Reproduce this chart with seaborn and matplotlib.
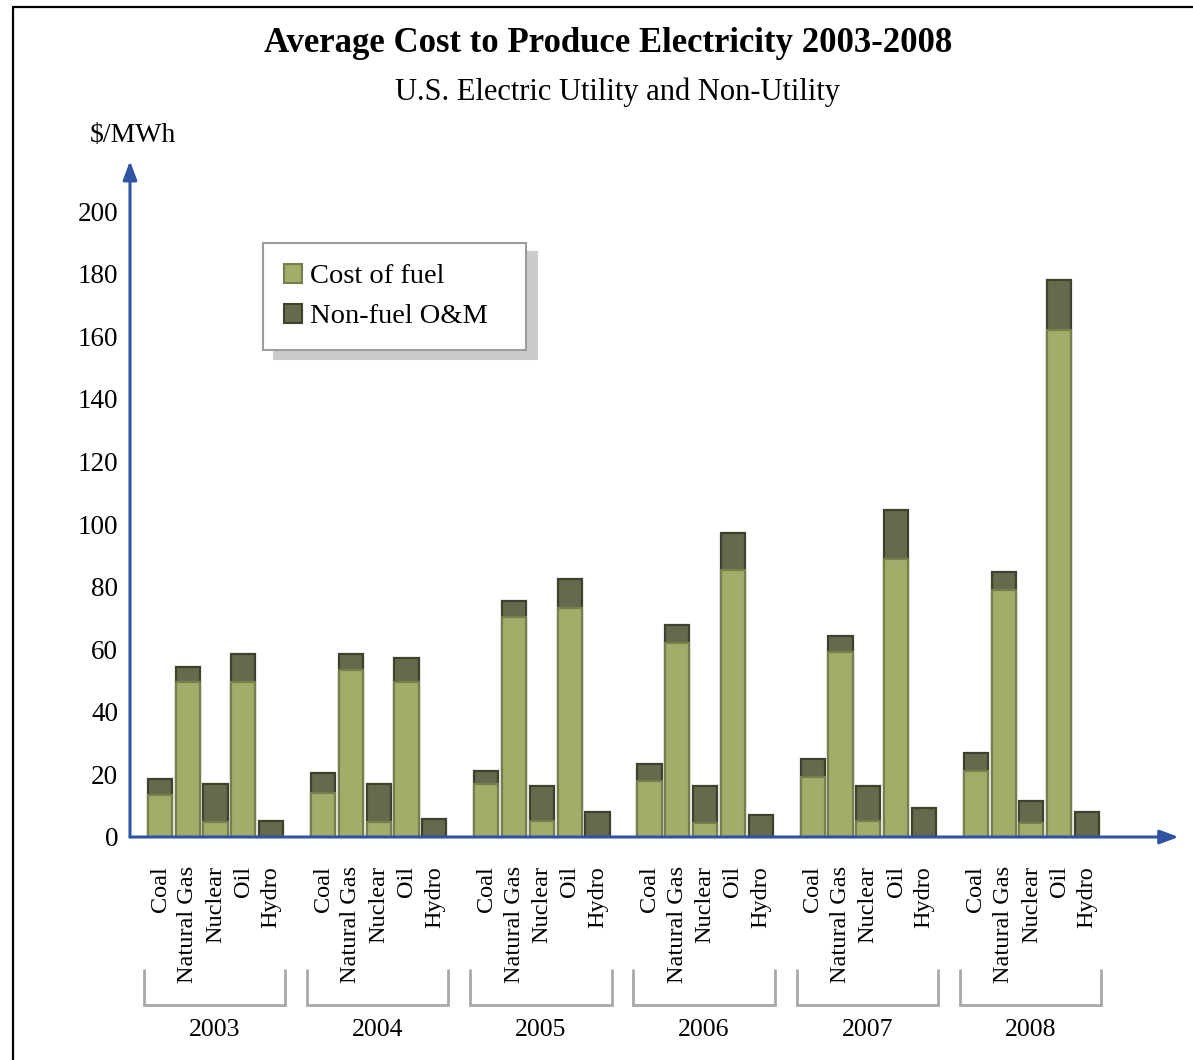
import numpy as np
import pandas as pd
import matplotlib
matplotlib.use("Agg")
import matplotlib.pyplot as plt
import seaborn as sns
from matplotlib.patches import Patch
from matplotlib.lines import Line2D
from matplotlib.transforms import blended_transform_factory

# ---- data ($/MWh) ----
years = ["2003", "2004", "2005", "2006", "2007", "2008"]
sources = ["Coal", "Natural Gas", "Nuclear", "Oil", "Hydro"]

fuel_2003 = [13.5, 49.4, 4.9, 49.4, 0.0]
fuel_2004 = [14.2, 53.5, 4.9, 49.4, 0.0]
fuel_2005 = [16.8, 70.4, 5.0, 73.3, 0.0]
fuel_2006 = [17.8, 62.1, 4.4, 85.3, 0.0]
fuel_2007 = [19.2, 59.2, 5.1, 88.7, 0.0]
fuel_2008 = [21.2, 79.0, 4.4, 161.9, 0.0]

om_2003 = [4.9, 5.0, 12.0, 9.1, 5.1]
om_2004 = [6.3, 5.0, 12.0, 7.8, 5.8]
om_2005 = [4.4, 4.9, 11.3, 9.0, 7.9]
om_2006 = [5.5, 5.5, 11.9, 11.8, 7.1]
om_2007 = [5.7, 5.0, 11.3, 15.8, 9.4]
om_2008 = [5.8, 5.7, 7.0, 16.2, 8.0]

y_ticks = [0, 20, 40, 60, 80, 100, 120, 140, 160, 180, 200]

title = "Average Cost to Produce Electricity 2003-2008"
subtitle = "U.S. Electric Utility and Non-Utility"
unit_label = "$/MWh"
legend_labels = ["Cost of fuel", "Non-fuel O&M"]

# ---- styling ----
LIGHT = "#a3ad6a"
LIGHT_EDGE = "#767e4e"
DARK = "#66694c"
DARK_EDGE = "#3e422d"
AXIS_BLUE = "#2f54a3"
BRACKET = "#a8a8a8"
GROUP_STEP = 5.874  # distance between the first bars of consecutive years

sns.set_style("white")
plt.rcParams["font.family"] = ["Liberation Serif", "DejaVu Serif"]
plt.rcParams["mathtext.default"] = "regular"
plt.rcParams["text.color"] = "black"
plt.rcParams["axes.labelcolor"] = "black"
plt.rcParams["xtick.color"] = "black"
plt.rcParams["ytick.color"] = "black"

fuel_rows = [fuel_2003, fuel_2004, fuel_2005, fuel_2006, fuel_2007, fuel_2008]
om_rows = [om_2003, om_2004, om_2005, om_2006, om_2007, om_2008]

records = []
for i, yr in enumerate(years):
    for j, src in enumerate(sources):
        f = fuel_rows[i][j]
        o = om_rows[i][j]
        records.append({"year": yr, "source": src,
                        "pos": i * GROUP_STEP + j,
                        "fuel": f, "om": o, "total": f + o})
df = pd.DataFrame(records)

W, H = 1193, 1060
fig = plt.figure(figsize=(W / 100, H / 100), dpi=100)
fig.patch.set_facecolor("white")

X_LEFT = -1.081
X_RIGHT = 36.72
Y_TOP = 216
ax = fig.add_axes([130 / W, (H - 837) / H, (1180 - 130) / W, 676 / H])

# stacked bars: full height in dark, fuel share drawn over it in light
sns.barplot(data=df, x="pos", y="total", native_scale=True, width=0.87,
            color=DARK, saturation=1, edgecolor=DARK_EDGE, linewidth=1.6,
            errorbar=None, ax=ax)
sns.barplot(data=df, x="pos", y="fuel", native_scale=True, width=0.87,
            color=LIGHT, saturation=1, edgecolor=LIGHT_EDGE, linewidth=1.6,
            errorbar=None, ax=ax)

ax.set_xlim(X_LEFT, X_RIGHT)
ax.set_ylim(0, Y_TOP)
ax.set_xlabel("")
ax.set_ylabel("")
for s in ax.spines.values():
    s.set_visible(False)
ax.grid(False)

# y ticks
ax.set_yticks(y_ticks)
ax.set_yticklabels([str(v) for v in y_ticks])
ax.tick_params(axis="y", direction="in", length=13, width=2,
               color=AXIS_BLUE, labelsize=19.5, pad=8.5, labelcolor="black")

# x tick labels: source names under each bar
ax.set_xticks(df["pos"].tolist())
ax.set_xticklabels(df["source"].tolist(), rotation=90, fontsize=17.5)
ax.tick_params(axis="x", length=0, pad=21, labelcolor="black")

# axis arrows
arrow_kw = dict(arrowstyle="-|>,head_length=0.8,head_width=0.3",
                mutation_scale=14, color=AXIS_BLUE, lw=2.2,
                shrinkA=0, shrinkB=0)
ax.annotate("", xy=(X_LEFT, Y_TOP), xytext=(X_LEFT, 0),
            arrowprops=arrow_kw, annotation_clip=False, zorder=5)
ax.annotate("", xy=(X_RIGHT - 0.05, 0), xytext=(X_LEFT, 0),
            arrowprops=arrow_kw, annotation_clip=False, zorder=5)

# year brackets
trans = blended_transform_factory(ax.transData, ax.transAxes)
y_top = (837 - 970) / 676
y_bot = (837 - 1005) / 676
y_year = (837 - 1030) / 676
for i, yr in enumerate(years):
    xl = i * GROUP_STEP - 0.58
    xr = i * GROUP_STEP + len(sources) - 1 + 0.51
    ax.add_line(Line2D([xl, xl, xr, xr], [y_top, y_bot, y_bot, y_top],
                       transform=trans, clip_on=False, color=BRACKET,
                       lw=2.0, solid_joinstyle="miter"))
    ax.text((xl + xr) / 2, y_year, yr, transform=trans, ha="center",
            va="center", fontsize=18.5, clip_on=False, color="black")

# legend (box stretched to a fixed width)
handles = [Patch(facecolor=LIGHT, edgecolor=LIGHT_EDGE, lw=1.5, label=legend_labels[0]),
           Patch(facecolor=DARK, edgecolor=DARK_EDGE, lw=1.5, label=legend_labels[1])]
leg = ax.legend(handles=handles, loc="upper left",
                bbox_to_anchor=(263 / W, 1 - 349 / H, 263 / W, 106 / H),
                bbox_transform=fig.transFigure, borderaxespad=0, mode="expand",
                fancybox=False, edgecolor="#9c9c9c", framealpha=1,
                fontsize=20.5, handlelength=0.62, handleheight=0.62,
                handletextpad=0.3, borderpad=0.74, labelspacing=0.52,
                shadow={"ox": 8, "oy": -6.5, "facecolor": "#cbcbcb",
                        "edgecolor": "#cbcbcb", "alpha": 1})
leg.get_frame().set_linewidth(1.5)
for t in leg.get_texts():
    t.set_color("black")

# titles and unit label
fig.text(608 / W, 1 - 52 / H, title, ha="center", va="baseline",
         fontsize=25, fontweight="bold", color="black")
fig.text(617 / W, 1 - 100 / H, subtitle, ha="center", va="baseline",
         fontsize=22, color="black")
fig.text(133 / W, 1 - 142 / H, unit_label, ha="center", va="baseline",
         fontsize=20, color="black")

# outer frame
fig.add_artist(Line2D([13 / W, 13 / W], [0, 1 - 7 / H], transform=fig.transFigure,
                      color="black", lw=1.6))
fig.add_artist(Line2D([13 / W, 1], [1 - 7 / H, 1 - 7 / H], transform=fig.transFigure,
                      color="black", lw=1.6))

fig.savefig("out.png", dpi=100, facecolor="white")
